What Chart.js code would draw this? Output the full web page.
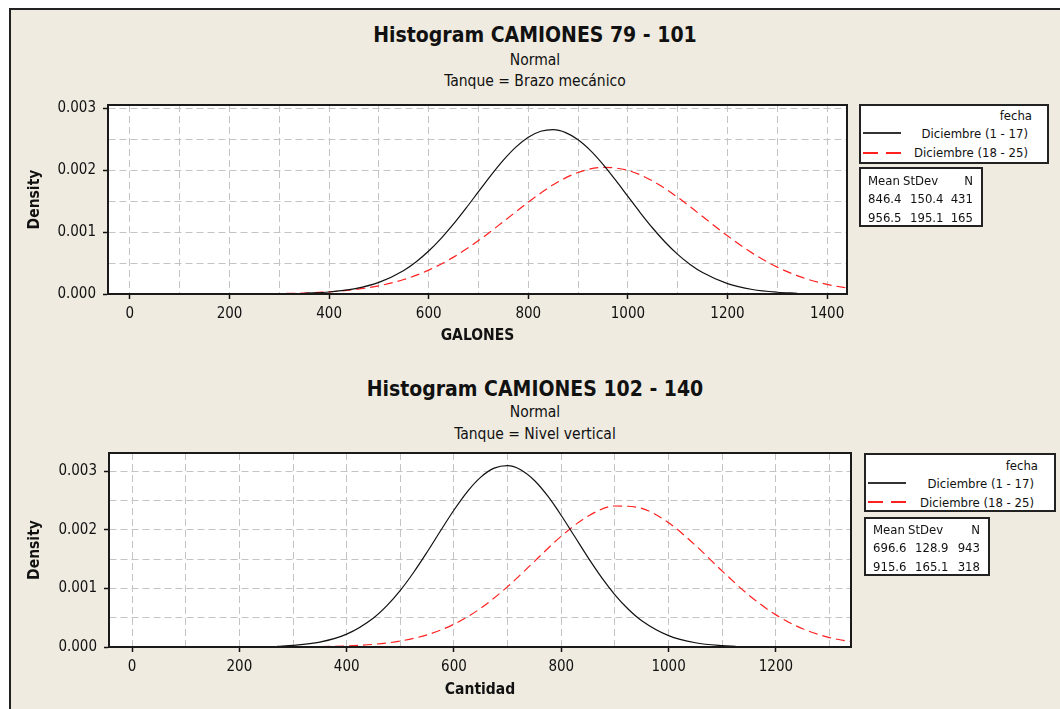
<!DOCTYPE html>
<html>
<head>
<meta charset="utf-8">
<script src="https://cdn.jsdelivr.net/npm/chart.js@4.4.1/dist/chart.umd.min.js"></script>
<style>
  body { margin: 0; background: #fff; width: 1060px; height: 709px; overflow: hidden;
         font-family: "DejaVu Sans Condensed", "Liberation Sans", sans-serif; color: #111; }
  #frame { position: absolute; left: 9px; top: 8px; width: 1060px; height: 710px;
           background: #efebe0; border-left: 2px solid #222; border-top: 2px solid #222; }
  canvas { position: absolute; }
  .ttl { position: absolute; left: 9px; width: 1052px; text-align: center; white-space: nowrap; }
  .big { font-weight: bold; font-size: 21px; }
  .sub { font-size: 15.5px; }
  .box { position: absolute; background: #fff; border: 2px solid #222; box-sizing: border-box; font-size: 13px; }
  .box span { position: absolute; white-space: nowrap; line-height: 15px; }
  .ln { position: absolute; height: 1.5px; }
</style>
</head>
<body>
<div id="frame"></div>

<div class="ttl big" style="top:23px">Histogram CAMIONES 79 - 101</div>
<div class="ttl sub" style="top:51px">Normal</div>
<div class="ttl sub" style="top:72px">Tanque = Brazo mecánico</div>

<div class="ttl big" style="top:377px">Histogram CAMIONES 102 - 140</div>
<div class="ttl sub" style="top:403px">Normal</div>
<div class="ttl sub" style="top:425px">Tanque = Nivel vertical</div>

<canvas id="chartTop" width="860" height="360" style="left:0;top:0"></canvas>
<canvas id="chartBottom" width="870" height="349" style="left:0;top:360px"></canvas>

<div class="box" style="left:859px;top:104px;width:190px;height:60px">
  <span style="right:15px;top:2px">fecha</span>
  <span style="right:19px;top:20px">Diciembre (1 - 17)</span>
  <span style="right:19px;top:39px">Diciembre (18 - 25)</span>
  <div class="ln" style="left:2px;top:26px;width:38px;background:#333"></div>
  <div class="ln" style="left:2px;top:46px;width:15px;background:#ff2020"></div>
  <div class="ln" style="left:25px;top:46px;width:15px;background:#ff2020"></div>
</div>
<div class="box" style="left:859px;top:167px;width:124px;height:60px">
  <span style="left:7px;top:4px">Mean</span><span style="left:42px;top:4px">StDev</span><span style="right:8px;top:4px">N</span>
  <span style="left:7px;top:22px">846.4</span><span style="left:49px;top:22px">150.4</span><span style="right:8px;top:22px">431</span>
  <span style="left:7px;top:41px">956.5</span><span style="left:49px;top:41px">195.1</span><span style="right:8px;top:41px">165</span>
</div>

<div class="box" style="left:864px;top:453px;width:192px;height:59px">
  <span style="right:16px;top:3px">fecha</span>
  <span style="right:20px;top:21px">Diciembre (1 - 17)</span>
  <span style="right:20px;top:40px">Diciembre (18 - 25)</span>
  <div class="ln" style="left:2px;top:27px;width:38px;background:#333"></div>
  <div class="ln" style="left:2px;top:46px;width:15px;background:#ff2020"></div>
  <div class="ln" style="left:25px;top:46px;width:15px;background:#ff2020"></div>
</div>
<div class="box" style="left:864px;top:517px;width:126px;height:59px">
  <span style="left:7px;top:3px">Mean</span><span style="left:42px;top:3px">StDev</span><span style="right:8px;top:3px">N</span>
  <span style="left:7px;top:21px">696.6</span><span style="left:49px;top:21px">128.9</span><span style="right:8px;top:21px">943</span>
  <span style="left:7px;top:40px">915.6</span><span style="left:49px;top:40px">165.1</span><span style="right:8px;top:40px">318</span>
</div>

<script>
// Fitted normal curves (x, density)
const galonesX1 = [350, 400, 450, 500, 550, 575, 600, 625, 650, 675, 700, 725, 750, 775, 800, 825, 850, 875, 900, 925, 950, 975,
    1000, 1025, 1050, 1075, 1100, 1125, 1150, 1200, 1250, 1300, 1340];
const galonesDic1 = [0.0000114, 0.0000324, 0.0000823, 0.000187, 0.0003805, 0.0005207, 0.0006932, 0.0008977, 0.0011307, 0.0013856,
    0.0016517, 0.0019151, 0.00216, 0.0023699, 0.0025293, 0.0026259, 0.0026518, 0.0026051, 0.0024894, 0.002314, 0.0020925, 0.0018404,
    0.0015747, 0.0013106, 0.001061, 0.0008356, 0.0006402, 0.000477, 0.0003458, 0.0001673, 0.0000724, 0.0000281, 0.0000122];

const galonesX2 = [230, 250, 300, 350, 400, 450, 500, 550, 600, 650, 700, 750, 800, 850, 900, 950, 1000, 1050, 1100, 1150, 1200, 1250, 1300, 1350, 1400, 1450];
const galonesDic2 = [0.000002, 0.0000029, 0.0000071, 0.0000163, 0.000035, 0.0000703, 0.0001324, 0.0002333, 0.0003851, 0.0005953, 0.0008616,
    0.0011678, 0.0014823, 0.0017618, 0.0019608, 0.0020437, 0.0019946, 0.001823, 0.0015602, 0.0012504, 0.0009384, 0.0006595, 0.000434,
    0.0002675, 0.0001544, 0.0000834];

const cantidadX1 = [270, 300, 350, 400, 450, 475, 500, 525, 550, 575, 600, 625, 650, 675, 700, 725, 750, 775, 800, 825, 850, 875,
    900, 925, 950, 1000, 1050, 1100, 1125];
const cantidadDic1 = [0.000013, 0.0000272, 0.0000833, 0.0002193, 0.0004965, 0.0007061, 0.0009672, 0.0012759, 0.001621, 0.0019834,
    0.0023372, 0.0026525, 0.0028992, 0.0030519, 0.0030939, 0.0030208, 0.0028405, 0.0025723, 0.0022435, 0.0018845, 0.0015245, 0.0011877,
    0.0008912, 0.000644, 0.0004482, 0.0001939, 0.0000722, 0.0000231, 0.0000124];

const cantidadX2 = [300, 350, 400, 450, 500, 550, 600, 650, 700, 750, 800, 850, 900, 950, 1000, 1050, 1100, 1150, 1200, 1250, 1300, 1350];
const cantidadDic2 = [0.0000023, 0.0000068, 0.0000184, 0.0000453, 0.0001017, 0.0002081, 0.0003888, 0.0006625, 0.00103, 0.0014612,
    0.0018911, 0.002233, 0.0024056, 0.0023645, 0.0021204, 0.0017349, 0.0012951, 0.000882, 0.0005481, 0.0003107, 0.0001607, 0.0000758];

// Tick labels
const xTicks = [0, 200, 400, 600, 800, 1000, 1200, 1400];
const yTicks = ['0.000', '0.001', '0.002', '0.003'];

const FONT = '"DejaVu Sans Condensed", "Liberation Sans", sans-serif';

function toPoints(xs, ys) {
    return xs.map((x, i) => ({ x: x, y: ys[i] }));
}

function isXLabel(v) { return xTicks.includes(Math.round(v)); }
function yLabel(v) {
    const k = Math.round(v / 0.0005);
    return k % 2 === 0 ? yTicks[k / 2] : null;
}

// white plot background + black frame
const plotFrame = {
    id: 'plotFrame',
    beforeDraw(chart) {
        const a = chart.chartArea, ctx = chart.ctx;
        ctx.save();
        ctx.fillStyle = '#fff';
        ctx.fillRect(a.left, a.top, a.right - a.left, a.bottom - a.top);
        ctx.restore();
    },
    afterDraw(chart) {
        const a = chart.chartArea, ctx = chart.ctx;
        ctx.save();
        ctx.strokeStyle = '#1a1a1a';
        ctx.lineWidth = 2;
        ctx.strokeRect(a.left, a.top, a.right - a.left, a.bottom - a.top);
        ctx.restore();
    }
};

function makeChart(id, opts) {
    const ctx = document.getElementById(id).getContext('2d');
    return new Chart(ctx, {
        type: 'scatter',
        data: {
            datasets: [{
                data: toPoints(opts.x1, opts.y1),
                showLine: true,
                borderColor: '#111',
                borderWidth: 1.2,
                pointRadius: 0,
                cubicInterpolationMode: 'monotone'
            }, {
                data: toPoints(opts.x2, opts.y2),
                showLine: true,
                borderColor: '#ff2020',
                borderWidth: 1.2,
                borderDash: [9, 5],
                pointRadius: 0,
                cubicInterpolationMode: 'monotone'
            }]
        },
        options: {
            responsive: false,
            animation: false,
            layout: { padding: { left: 0, top: opts.padTop, right: opts.padRight, bottom: 0 } },
            plugins: { legend: { display: false }, tooltip: { enabled: false } },
            scales: {
                x: {
                    type: 'linear',
                    min: opts.xMin,
                    max: opts.xMax,
                    afterFit: s => { s.height = opts.xHeight; },
                    ticks: {
                        stepSize: 100,
                        includeBounds: false,
                        autoSkip: false,
                        maxRotation: 0,
                        padding: 6,
                        color: '#111',
                        font: { family: FONT, size: 15 },
                        callback: v => isXLabel(v) ? String(Math.round(v)) : ''
                    },
                    grid: {
                        color: '#c4c4c4',
                        lineWidth: 1,
                        tickLength: 5,
                        tickColor: c => isXLabel(c.tick.value) ? '#111' : 'rgba(0,0,0,0)',
                        tickWidth: 1.5,
                        tickBorderDash: []
                    },
                    border: { display: true, color: '#111', width: 1.5, dash: [7, 4] },
                    title: {
                        display: true,
                        text: opts.xTitle,
                        color: '#111',
                        font: { family: FONT, size: 15.5, weight: 'bold' },
                        padding: { top: 0, bottom: opts.xTitlePad }
                    }
                },
                y: {
                    min: 0,
                    max: opts.yMax,
                    afterFit: s => { s.width = opts.yWidth; },
                    ticks: {
                        stepSize: 0.0005,
                        includeBounds: false,
                        autoSkip: false,
                        padding: 7,
                        color: '#111',
                        font: { family: FONT, size: 15 },
                        callback: v => yLabel(v) || ''
                    },
                    grid: {
                        color: '#c4c4c4',
                        lineWidth: 1,
                        tickLength: 5,
                        tickColor: c => yLabel(c.tick.value) ? '#111' : 'rgba(0,0,0,0)',
                        tickWidth: 1.5,
                        tickBorderDash: []
                    },
                    border: { display: true, color: '#111', width: 1.5, dash: [7, 4] },
                    title: {
                        display: true,
                        text: 'Density',
                        color: '#111',
                        font: { family: FONT, size: 15.5, weight: 'bold' },
                        padding: { top: 26, bottom: 0 }
                    }
                }
            }
        },
        plugins: [plotFrame]
    });
}

makeChart('chartTop', {
    x1: galonesX1, y1: galonesDic1, x2: galonesX2, y2: galonesDic2,
    xMin: -44, xMax: 1440, yMax: 0.00305,
    padTop: 105, padRight: 13, yWidth: 108, xHeight: 66,
    xTitle: 'GALONES', xTitlePad: 15
});

makeChart('chartBottom', {
    x1: cantidadX1, y1: cantidadDic1, x2: cantidadX2, y2: cantidadDic2,
    xMin: -43, xMax: 1340, yMax: 0.00331,
    padTop: 93, padRight: 19, yWidth: 109, xHeight: 62,
    xTitle: 'Cantidad', xTitlePad: 10
});
</script>
</body>
</html>
